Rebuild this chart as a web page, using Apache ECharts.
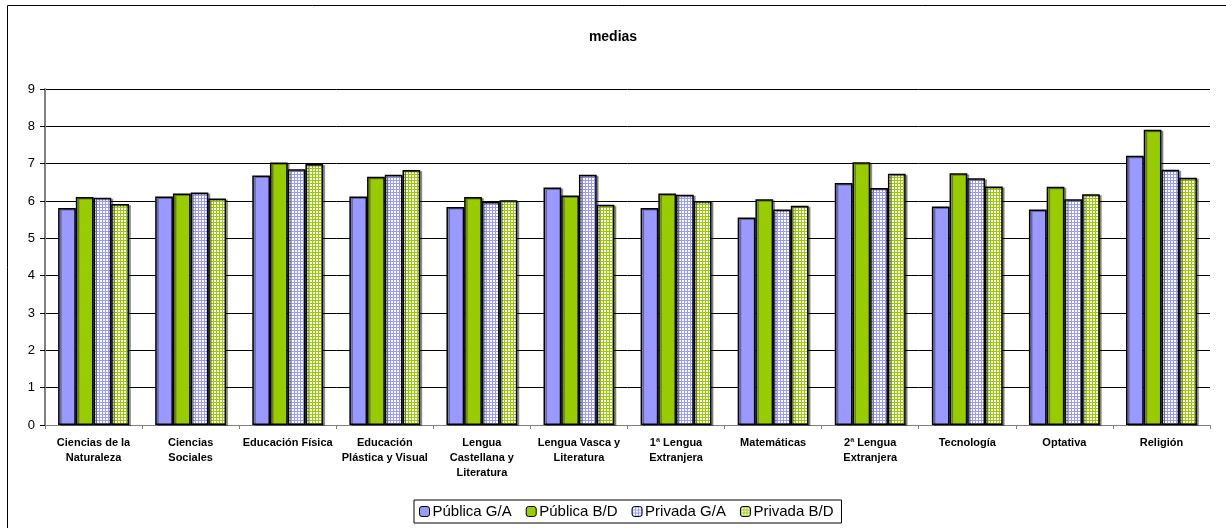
<!DOCTYPE html>
<html><head><meta charset="utf-8">
<script src="https://cdn.jsdelivr.net/npm/echarts@6/dist/echarts.min.js"></script>
<style>html,body{margin:0;padding:0;background:#fff}#c{width:1226px;height:528px}</style>
</head><body><div id="c"></div>
<script>
const categories = ['Ciencias de la\nNaturaleza','Ciencias\nSociales','Educación Física','Educación\nPlástica y Visual','Lengua\nCastellana y\nLiteratura','Lengua Vasca y\nLiteratura','1ª Lengua\nExtranjera','Matemáticas','2ª Lengua\nExtranjera','Tecnología','Optativa','Religión'];
const seriesNames = ['Pública G/A','Pública B/D','Privada G/A','Privada B/D'];
const publicaGA = [5.81,6.12,6.68,6.12,5.84,6.36,5.81,5.56,6.48,5.85,5.77,7.21];
const publicaBD = [6.11,6.20,7.03,6.65,6.11,6.15,6.20,6.05,7.04,6.74,6.38,7.91];
const privadaGA = [6.09,6.23,6.85,6.70,5.98,6.70,6.17,5.77,6.35,6.61,6.05,6.84];
const privadaBD = [5.92,6.07,6.99,6.83,6.02,5.90,6.00,5.87,6.73,6.39,6.18,6.62];
const yTicks = [0,1,2,3,4,5,6,7,8,9];

function pattern(col){
  const c=document.createElement('canvas');c.width=3;c.height=3;
  const g=c.getContext('2d');g.fillStyle='#fff';g.fillRect(0,0,3,3);
  g.fillStyle=col;g.fillRect(0,0,3,1);g.fillRect(0,0,1,3);
  return c;
}
const fills=['#9999ff','#99cc00',{image:pattern('#9999ff'),repeat:'repeat'},{image:pattern('#99cc00'),repeat:'repeat'}];
const data=[publicaGA,publicaBD,privadaGA,privadaBD];

const chart=echarts.init(document.getElementById('c'),null,{renderer:'canvas'});
chart.setOption({
  animation:false,
  title:{text:'medias',left:'center',top:25,textStyle:{fontFamily:'Liberation Sans, Arial',fontSize:14,fontWeight:'bold',color:'#000'}},
  graphic:[{type:'rect',shape:{x:7.5,y:5.5,width:1230,height:540},style:{fill:'none',stroke:'#000',lineWidth:1},silent:true}],
  grid:{left:45,right:16,top:89,bottom:103,containLabel:false},
  legend:{top:500,left:414,data:seriesNames,itemWidth:10,itemHeight:10,itemGap:14,
    borderColor:'#000',borderWidth:1,padding:[4,8,4,5],borderRadius:0,
    textStyle:{fontFamily:'Liberation Sans, Arial',fontSize:15,color:'#000',padding:[0,0,0,-2]},
    itemStyle:{borderColor:'#000',borderWidth:1}},
  xAxis:{type:'category',data:categories,
    axisLine:{lineStyle:{color:'#808080',width:1}},
    axisTick:{show:true,alignWithLabel:false,length:4,lineStyle:{color:'#808080'}},
    axisLabel:{interval:0,fontFamily:'Liberation Sans, Arial',fontSize:11,fontWeight:'bold',color:'#000',lineHeight:15,margin:10}},
  yAxis:{type:'value',min:0,max:9,interval:1,
    axisLine:{show:true,lineStyle:{color:'#808080',width:2}},
    axisTick:{show:true,length:5,lineStyle:{color:'#000'}},
    axisLabel:{fontFamily:'Liberation Sans, Arial',fontSize:13,color:'#000',margin:10},
    splitLine:{lineStyle:{color:'#000',width:1}}},
  series:data.map((d,i)=>({
    name:seriesNames[i],type:'bar',data:d,barGap:'0%',barCategoryGap:'27%',
    itemStyle:{color:fills[i],borderColor:'#000',borderWidth:1.5,shadowColor:'rgba(0,0,0,0.35)',shadowOffsetX:2,shadowOffsetY:1,shadowBlur:0}
  }))
});
</script></body></html>
